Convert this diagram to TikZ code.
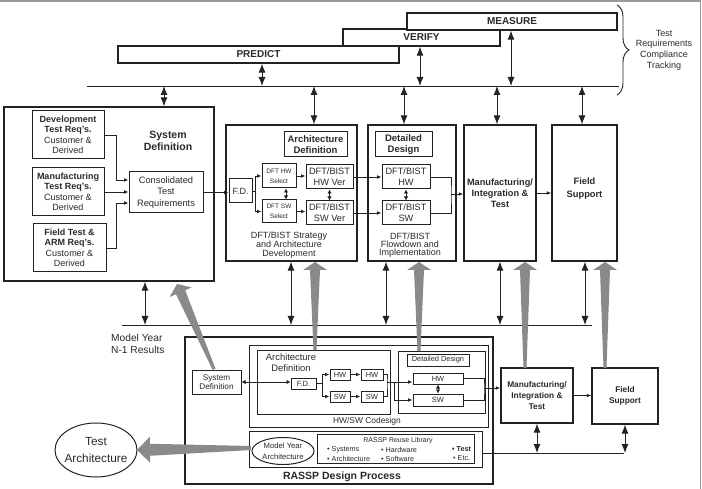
\documentclass[tikz,border=0pt]{standalone}
\usepackage{fontspec}
\setmainfont{Liberation Sans}
\usetikzlibrary{arrows.meta,shapes.geometric,decorations.pathreplacing,calc}
\definecolor{lc}{HTML}{222222}
\definecolor{tc}{HTML}{2a2a2a}
\definecolor{gc}{HTML}{8a8a8a}
\definecolor{bc}{HTML}{9a9a9a}
\newcommand\fsz[2]{\fontsize{#1}{#2}\selectfont}
\newcommand\garrow[7]{\begin{scope}[shift={#1},rotate=#2]\fill[gc] (0,0) -- (-#5,#4) -- (-#6,#4) -- (-#7,#3) -- (#7,#3) -- (#6,#4) -- (#5,#4) -- cycle;\end{scope}}
\begin{document}
\begin{tikzpicture}[x=1pt,y=-1pt,
 sz/.style 2 args={minimum width=#1pt,minimum height=#2pt},
 box/.style={draw=lc,line width=1pt,fill=white,inner sep=1pt,align=center,text=tc,font=\fsz{9}{10.5}},
 bbox/.style={box,line width=1.3pt},
 lbl/.style={inner sep=0pt,align=center,text=tc},
 con/.style={draw=lc,line width=0.9pt},
 arr/.style={con,-{Latex[length=4.5pt,width=3.8pt]}},
 arrs/.style={con,{Latex[length=4pt,width=4.5pt]}-{Latex[length=4pt,width=4.5pt]}},
 dbl/.style={con,{Latex[length=9pt,width=7pt]}-{Latex[length=9pt,width=7pt]}},
]
\useasboundingbox (0,0) rectangle (702,489);
% frame
\draw[bc,line width=1.5pt] (0,1) -- (700.5,1) -- (700.5,489);

% top phases
\node[bbox,sz={157}{17},font=\fsz{10}{12}\bfseries] (verify) at (421.5,37.5) {VERIFY};
\node[bbox,sz={210}{17},font=\fsz{10}{12}\bfseries] (measure) at (512,21.5) {MEASURE};
\node[bbox,sz={281}{17},font=\fsz{10}{12}\bfseries] (predict) at (258.5,54.5) {PREDICT};
\coordinate (tl) at (87,86); \coordinate (tr) at (619,86);
\draw[con] (tl) -- (tr);
\coordinate (p1) at (262,86); \coordinate (v1) at (420,86); \coordinate (m1) at (511,86);
\draw[dbl] (p1 |- predict.south) -- (p1);
\draw[dbl] (v1 |- verify.south) -- (v1);
\draw[dbl] (m1 |- measure.south) -- (m1);
\draw[lc,line width=0.9pt,decorate,decoration={brace,amplitude=12pt}] (617,5) -- (617,95);
\node[lbl,font=\fsz{9}{10.7}] (trct) at (664,50) {Test\\Requirements\\Compliance\\Tracking};

% system definition
\node[bbox,sz={210}{174}] (sysdef) at (109,194) {};
\node[lbl,font=\fsz{10.5}{12}\bfseries] (sdt) at (168,141) {System\\Definition};
\node[box,sz={72}{48}] (dev) at (68,135) {\textbf{Development}\\\textbf{Test Req's.}\\Customer \&\\Derived};
\node[box,sz={72}{48}] (manu) at (68,192) {\textbf{Manufacturing}\\\textbf{Test Req's.}\\Customer \&\\Derived};
\node[box,sz={73}{48}] (fld) at (69.5,248) {\textbf{Field Test \&}\\\textbf{ARM Req's.}\\Customer \&\\Derived};
\node[box,sz={74}{41},font=\fsz{9.3}{11.5}] (cons) at (166,192.5) {Consolidated\\Test\\Requirements};
\draw[arr] (dev.east) -- ++(12,0) |- ([yshift=12.5pt]cons.west);
\draw[arr] (manu.east) -- (manu.east -| cons.west);
\draw[arr] (fld.east) -- ++(10,0) |- ([yshift=-10.5pt]cons.west);

% architecture
\node[bbox,sz={131}{136}] (arch) at (291.5,193) {};
\node[box,sz={63}{25},font=\fsz{9.5}{10.5}\bfseries] (archdef) at (315.5,144.5) {Architecture\\Definition};
\node[box,sz={23}{24}] (fd) at (240.5,191) {F.D.};
\node[box,sz={34}{24},font=\fsz{6.5}{10}] (hwsel) at (279,176) {DFT HW\\Select};
\node[box,sz={34}{23},font=\fsz{6.5}{10}] (swsel) at (279,211.5) {DFT SW\\Select};
\node[box,sz={47}{24},font=\fsz{9.2}{11}] (hwver) at (329.5,177) {DFT/BIST\\HW Ver};
\node[box,sz={47}{24},font=\fsz{9.2}{11}] (swver) at (329.5,213) {DFT/BIST\\SW Ver};
\node[lbl,font=\fsz{9}{8.2}] (archtx) at (289,245) {DFT/BIST Strategy\\and Architecture\\Development};

% detailed design
\node[bbox,sz={88}{136}] (det) at (412,193) {};
\node[box,sz={57}{25},font=\fsz{9.5}{10.5}\bfseries] (detlab) at (403.5,144.5) {Detailed\\Design};
\node[box,sz={48}{24},font=\fsz{9.2}{11}] (dhw) at (406,177) {DFT/BIST\\HW};
\node[box,sz={48}{24},font=\fsz{9.2}{11}] (dsw) at (406,213) {DFT/BIST\\SW};
\node[lbl,font=\fsz{9}{8.2}] (dettx) at (410,245) {DFT/BIST\\Flowdown and\\Implementation};

% manufacturing, field
\node[bbox,sz={72}{136},font=\fsz{9.2}{11}\bfseries] (mfg) at (500,193) {Manufacturing/\\Integration \&\\Test};
\node[bbox,sz={65}{136}] (fs) at (584.5,193) {};
\node[lbl,font=\fsz{9.3}{13}\bfseries] (fst) at (584.5,188.5) {Field\\Support};

% connectors upper
\draw[arr] (cons.east) -- (cons.east -| fd.west);
\coordinate (fdj) at (255,191);
\draw[arr] (fd.east) -- (fdj) |- (hwsel.west);
\draw[arr] (fdj) |- (swsel.west);
\draw[arr] (hwsel.east) -- (hwsel.east -| hwver.west);
\draw[arr] (swsel.east) -- (swsel.east -| swver.west);
\coordinate (selx) at (286,200);
\draw[arrs] (selx |- hwsel.south) -- (selx |- swsel.north);
\draw[arrs] (hwver.south) -- (swver.north);
\draw[arr] (hwver.east) -- (hwver.east -| dhw.west);
\draw[arr] (swver.east) -- (swver.east -| dsw.west);
\draw[arrs] (dhw.south) -- (dsw.north);
\coordinate (dj) at (451,194);
\draw[con] (dhw.east) -| (dj) |- (dsw.east);
\draw[arr] (dj) -- (dj -| mfg.west);
\draw[arr] (mfg.east) -- (mfg.east -| fs.west);

\coordinate (a1) at (164,86); \coordinate (a2) at (314,86); \coordinate (a3) at (404,86);
\coordinate (a4) at (497,86); \coordinate (a5) at (582,86);
\draw[dbl] (a1) -- (a1 |- sysdef.north);
\draw[dbl] (a2) -- (a2 |- arch.north);
\draw[dbl] (a3) -- (a3 |- det.north);
\draw[dbl] (a4) -- (a4 |- mfg.north);
\draw[dbl] (a5) -- (a5 |- fs.north);

% middle line
\coordinate (ml) at (122,325); \coordinate (mr) at (592,325);
\draw[con] (ml) -- (mr);
\coordinate (b1) at (145,325); \coordinate (b2) at (291,325); \coordinate (b3) at (386,325);
\coordinate (b4) at (500,325); \coordinate (b5) at (585,325);
\draw[dbl] (b1 |- sysdef.south) -- (b1);
\draw[dbl] (b2 |- arch.south) -- (b2);
\draw[dbl] (b3 |- det.south) -- (b3);
\draw[dbl] (b4 |- mfg.south) -- (b4);
\draw[dbl] (b5 |- fs.south) -- (b5);
\node[lbl,anchor=west,align=left,font=\fsz{10.2}{12.3}] (myr) at (111,344) {Model Year\\N-1 Results};

% RASSP design process
\node[bbox,sz={308}{147}] (rassp) at (339,410.5) {};
\node[lbl,font=\fsz{10.5}{12}\bfseries] (rasspt) at (342,477) {RASSP Design Process};
\node[box,sz={239}{82}] (codes) at (368.5,386) {};
\node[lbl,font=\fsz{8.4}{10}] (codest) at (367,421.5) {HW/SW Codesign};
\node[box,sz={133}{64}] (archin) at (323.5,382) {};
\node[lbl,font=\fsz{9.4}{10.7}] (archint) at (291,362.5) {Architecture\\Definition};
\node[box,sz={25}{11},inner sep=0.5pt,font=\fsz{7.5}{8}] (sfd) at (303.5,383.5) {F.D.};
\node[box,sz={20}{11},inner sep=0.5pt,font=\fsz{7.5}{8}] (hw1) at (340,374.5) {HW};
\node[box,sz={22}{11},inner sep=0.5pt,font=\fsz{7.5}{8}] (hw2) at (372,374.5) {HW};
\node[box,sz={20}{11},inner sep=0.5pt,font=\fsz{7.5}{8}] (sw1) at (340,396.5) {SW};
\node[box,sz={22}{11},inner sep=0.5pt,font=\fsz{7.5}{8}] (sw2) at (372,396.5) {SW};
\node[box,sz={87}{62}] (detin) at (441.5,382) {};
\node[box,sz={62}{12},inner sep=0.5pt,font=\fsz{7.4}{8}] (detlab2) at (438,360) {Detailed Design};
\node[box,sz={50}{11},inner sep=0.5pt,font=\fsz{7.5}{8}] (dhw2) at (438,378.5) {HW};
\node[box,sz={50}{12},inner sep=0.5pt,font=\fsz{7.5}{8}] (dsw2) at (438,400) {SW};
\node[box,sz={49}{24},inner sep=0.5pt,font=\fsz{8.2}{9}] (ssys) at (216.5,382) {System\\Definition};
\node[box,sz={233}{36}] (reuse) at (365.5,449) {};
\node[box,ellipse,sz={62}{27},inner sep=0pt] (myarch) at (283,451) {};
\node[lbl,font=\fsz{7.7}{10.5}] (myarcht) at (283,451) {Model Year\\Architecture};
\node[box,sz={157}{29}] (rlib) at (395.5,448.5) {};
\node[lbl,font=\fsz{7}{8}] (rlibt) at (398,441) {RASSP Reuse Library};
\node[lbl,anchor=west,font=\fsz{7.2}{8}] (l1) at (327,449.5) {• Systems};
\node[lbl,anchor=west,font=\fsz{7.2}{8}] (l2) at (327,458.5) {• Architecture};
\node[lbl,anchor=west,font=\fsz{7.2}{8}] (l3) at (381,449.5) {• Hardware};
\node[lbl,anchor=west,font=\fsz{7.2}{8}] (l4) at (381,458.5) {• Software};
\node[lbl,anchor=west,font=\fsz{7.2}{8}\bfseries] (l5) at (452,449.5) {• Test};
\node[lbl,anchor=west,font=\fsz{7.2}{8}] (l6) at (453,458.5) {• Etc.};
\node[bbox,sz={72}{55},font=\fsz{8.3}{11}\bfseries] (smfg) at (537,395.5) {Manufacturing/\\Integration \&\\Test};
\node[bbox,sz={66}{56},font=\fsz{8.3}{11}\bfseries] (sfs) at (625,396) {Field\\Support};

% connectors lower
\draw[arrs] (ssys.east) -- (ssys.east -| sfd.west);
\coordinate (sj) at (322,383.5);
\draw[arr] (sfd.east) -- (sj) |- (hw1.west);
\draw[arr] (sj) |- (sw1.west);
\draw[arr] (hw1.east) -- (hw2.west);
\draw[arr] (sw1.east) -- (sw2.west);
\coordinate (cj) at (387,382);
\draw[con] (hw2.east) -| (cj) |- (sw2.east);
\draw[arr] (cj) -- (cj -| dhw2.west);
\draw[arr] (cj) -- ++(7,0) |- (dsw2.west);
\draw[arrs] (dhw2.south) -- (dsw2.north);
\coordinate (dj2) at (484,388);
\draw[con] (dhw2.east) -| (dj2) |- (dsw2.east);
\draw[arr] (dj2) -- (dj2 -| smfg.west);
\draw[arr] (smfg.east) -- (smfg.east -| sfs.west);
\coordinate (rl) at (482,453); \coordinate (rr) at (624,453);
\draw[con] (rl) -- (rr);
\draw[dbl] (smfg.south) -- (smfg.south |- rr);
\draw[dbl] (sfs.south) -- (sfs.south |- rr);

% test architecture
\node[draw=lc,line width=1pt,ellipse,sz={82}{54},inner sep=0pt] (testarch) at (96,450) {};
\node[lbl,font=\fsz{11.8}{17}] (testarcht) at (96,450) {Test\\Architecture};

% gray arrows
\garrow{(315,262)}{0}{88}{8}{12}{5}{1.5}
\garrow{(419,262)}{0}{89}{8}{12}{5}{1.5}
\garrow{(525,262)}{0}{106}{8}{12}{5}{1.5}
\garrow{(605,262)}{0}{106}{8}{12}{5}{1.5}
\garrow{(177,284)}{23.5}{93}{9}{12}{5}{1.5}
\garrow{(137,450)}{91}{114}{13}{13}{6}{2}
\end{tikzpicture}
\end{document}
